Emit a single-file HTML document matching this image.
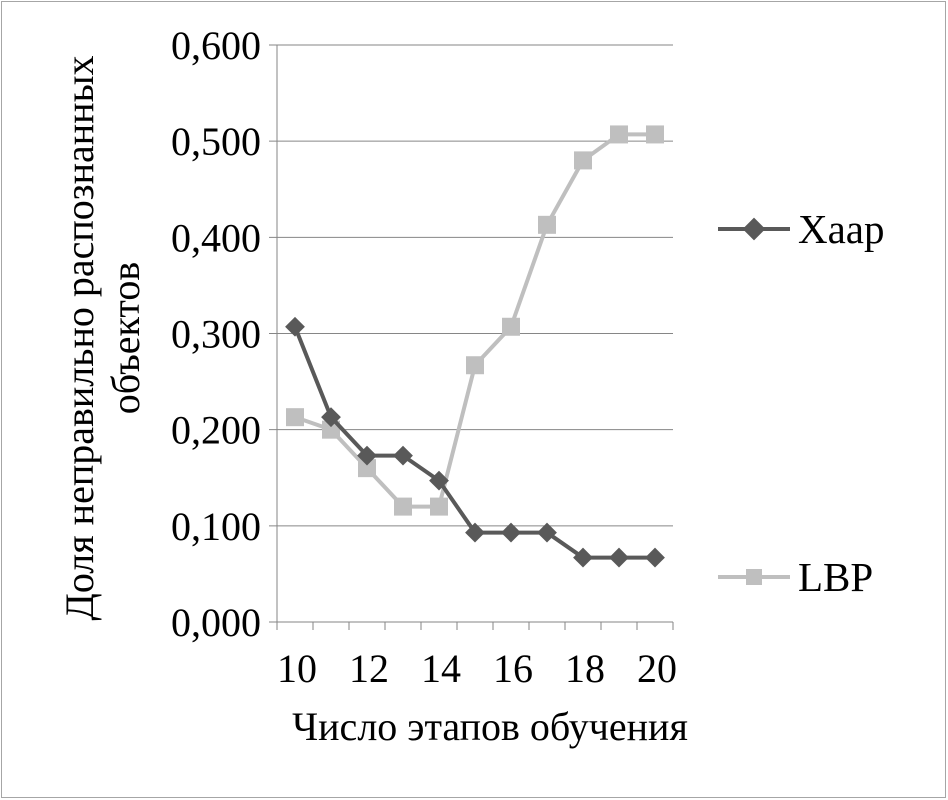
<!DOCTYPE html>
<html><head><meta charset="utf-8"><style>
html,body{margin:0;padding:0;background:#fff;}
svg{display:block;font-family:"Liberation Serif",serif;}
</style></head><body>
<svg width="948" height="800">
<rect x="1.5" y="1.5" width="944" height="796" fill="#fff" stroke="#a6a6a6"/>
<g id="grid"></g><g id="axes"></g><g id="series"></g>
<text transform="translate(93,338) rotate(-90)" text-anchor="middle" font-size="40" fill="#000"><tspan x="0" dy="0">Доля неправильно распознанных</tspan><tspan x="0" dy="46">объектов</tspan></text>
<text x="490" y="740" text-anchor="middle" font-size="40">Число этапов обучения</text>
<g>
<line x1="718" y1="229" x2="790" y2="229" stroke="#595959" stroke-width="4"/>
<rect x="746" y="221" width="16" height="16" fill="#595959" transform="rotate(45 754 229)"/>
<text x="798" y="243" font-size="41">Хаар</text>
<line x1="718" y1="577" x2="790" y2="577" stroke="#bfbfbf" stroke-width="4"/>
<rect x="746" y="569" width="16" height="16" fill="#bfbfbf"/>
<text x="798" y="591" font-size="41">LBP</text>
</g>
</svg>
<script>
const categories=[10,11,12,13,14,15,16,17,18,19,20];
const haar=[0.307,0.213,0.173,0.173,0.147,0.093,0.093,0.093,0.067,0.067,0.067];
const lbp=[0.213,0.200,0.160,0.120,0.120,0.267,0.307,0.413,0.480,0.507,0.507];
const yTicks=[0,0.1,0.2,0.3,0.4,0.5,0.6];
const yLabels=["0,000","0,100","0,200","0,300","0,400","0,500","0,600"];
const xLabels=["10","12","14","16","18","20"];
const NS="http://www.w3.org/2000/svg";
const L=277,R=673,T=45,B=622;
const bw=(R-L)/categories.length;
function x(i){return L+bw*(i+0.5);}
function y(v){return B-(v/0.6)*(B-T);}
function mk(tag,attrs,parent){const e=document.createElementNS(NS,tag);for(const k in attrs)e.setAttribute(k,attrs[k]);document.getElementById(parent).appendChild(e);return e;}
yTicks.forEach((t,i)=>{
 const g=mk('line',{x1:L-8,x2:R,y1:y(t),y2:y(t),stroke:'#868686','stroke-width':1},'grid');
 
 
 const tx=mk('text',{x:L-16,y:y(t)+14,'text-anchor':'end','font-size':40},'axes');
 tx.textContent=yLabels[i];
 
 
});
const ya=mk('line',{x1:L,x2:L,y1:T,y2:B,stroke:'#868686'},'axes');


for(let k=0;k<=categories.length;k++){
 const t=mk('line',{x1:L+bw*k,x2:L+bw*k,y1:B,y2:B+8,stroke:'#868686'},'axes');
 
 
}
categories.forEach((c,i)=>{
 if(i%2===0){
  const tx=mk('text',{x:x(i)+2,y:B+60,'text-anchor':'middle','font-size':40},'axes');
  tx.textContent=xLabels[i/2];
  
  
 }
});
function series(data,color,shape,name){
 const p=mk('polyline',{points:data.map((v,i)=>x(i)+','+y(v)).join(' '),fill:'none',stroke:color,'stroke-width':4,'stroke-linejoin':'round'},'series');
 
 
 data.forEach((v,i)=>{
  let m;
  if(shape==='d') m=mk('rect',{x:x(i)-7,y:y(v)-7,width:14,height:14,fill:color,transform:`rotate(45 ${x(i)} ${y(v)})`},'series');
  else m=mk('rect',{x:x(i)-9,y:y(v)-9,width:18,height:18,fill:color},'series');
  
  
 });
}
series(lbp,'#bfbfbf','s','lbp');
series(haar,'#595959','d','haar');
</script>
</body></html>
